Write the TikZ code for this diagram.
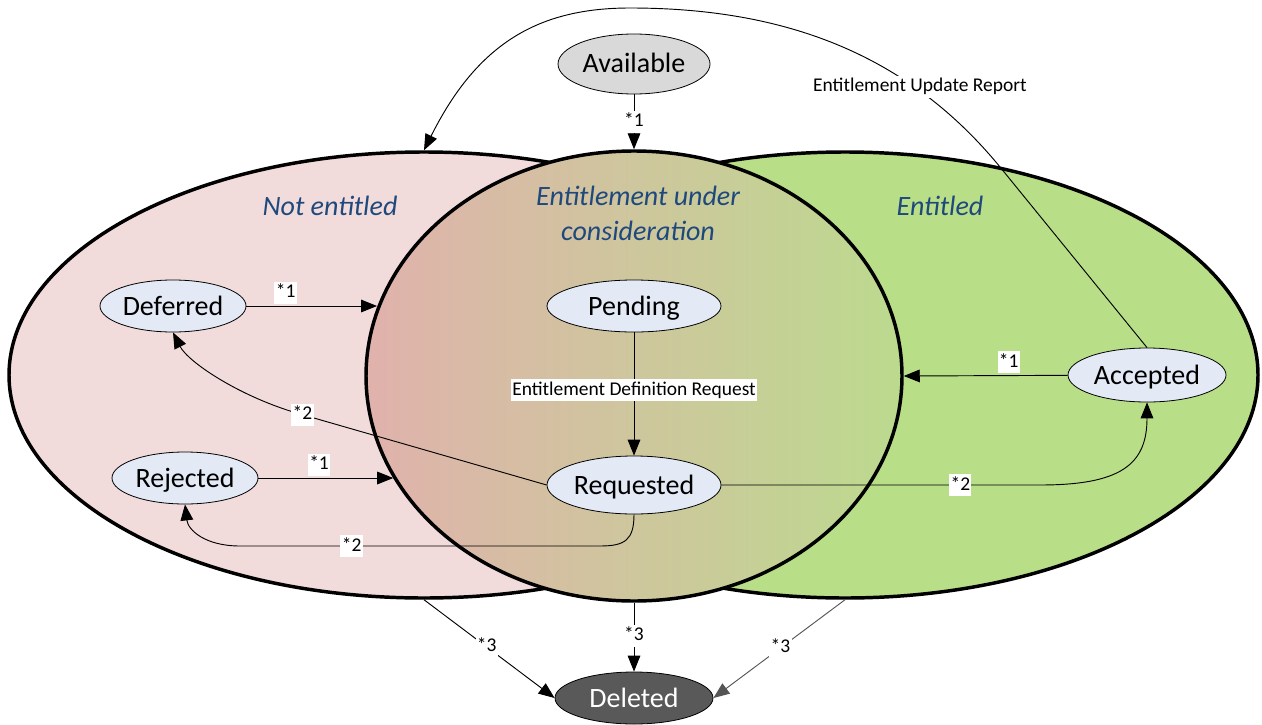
\documentclass[tikz,border=0pt]{standalone}
\usepackage{fontspec}
\setmainfont{Carlito}
\usetikzlibrary{shapes.geometric,arrows.meta}
\definecolor{notentfill}{HTML}{F2DCDB}
\definecolor{entfill}{HTML}{B8DE88}
\definecolor{midleft}{HTML}{E0B2AC}
\definecolor{midright}{HTML}{BCDA8E}
\definecolor{statefill}{HTML}{E3EAF6}
\definecolor{availfill}{HTML}{D9D9D9}
\definecolor{delfill}{HTML}{595959}
\definecolor{zonetext}{HTML}{1F497D}
\definecolor{softline}{HTML}{555555}
\begin{document}
\begin{tikzpicture}[x=0.75pt,y=-0.75pt,
  region/.style={ellipse, draw=black, line width=2.6pt, inner sep=0pt},
  state/.style={ellipse, draw=black, line width=0.6pt, fill=statefill, inner sep=0pt,
    text height=13.5pt, text depth=0pt, font=\fontsize{21}{25}\selectfont},
  flow/.style={draw=black, line width=0.7pt, -{Triangle[length=12pt,width=9.5pt]}},
  lbl/.style={fill=white, inner xsep=1pt, inner ysep=0.5pt, text height=11.5pt, text depth=4pt,
    font=\fontsize{14.6}{17}\selectfont},
  zone/.style={text=zonetext, align=center, font=\fontsize{21}{26.25}\itshape\selectfont}
]
\useasboundingbox (0,0) rectangle (1262,724);

% the three status regions
\node[region, fill=notentfill, minimum width=622.5pt, minimum height=334.5pt] (ne) at (424,375) {};
\node[region, fill=entfill, minimum width=619.5pt, minimum height=334.5pt] (ent) at (845,375) {};
\node[region, left color=midleft, right color=midright, minimum width=402pt, minimum height=337.5pt] (mid) at (634,376) {};

\node[zone] (zne) at (330,206) {Not entitled};
\node[zone] (zmid) at (638,213) {Entitlement under\\consideration};
\node[zone] (zent) at (940,206) {Entitled};

% states
\node[state, fill=availfill, minimum width=114pt, minimum height=45pt] (avail) at (634,64) {Available};
\node[state, minimum width=109.5pt, minimum height=39pt] (def) at (173,306) {Deferred};
\node[state, minimum width=109.5pt, minimum height=39pt] (rej) at (185,478) {Rejected};
\node[state, minimum width=130.5pt, minimum height=39pt] (pen) at (634,306) {Pending};
\node[state, minimum width=130.5pt, minimum height=43.5pt] (req) at (634,485) {Requested};
\node[state, minimum width=118.5pt, minimum height=40.5pt] (acc) at (1147,375) {Accepted};
\node[state, fill=delfill, text=white, minimum width=118.5pt, minimum height=39pt] (del) at (634,698) {Deleted};

% transitions
\draw[flow] (avail) -- node[lbl]{*1} (mid.north);
\draw[flow] (pen) -- node[lbl, pos=0.47]{Entitlement Definition Request} (req);
\draw[flow] (def.east) -- node[lbl, above=1.5pt, pos=0.3]{*1} (def.east -| mid.165);
\draw[flow] (rej.east) -- node[lbl, above=1.5pt, pos=0.45]{*1} (rej.east -| mid.203);
\draw[flow] (acc) -- node[lbl, above=1.5pt, pos=0.36]{*1} (mid.east);

\draw[flow] (req.west) -- node[lbl, pos=0.99]{*2} (300,414)
  .. controls (240,397) and (188,362) .. (def.south);
\draw[flow] (req.south) .. controls (634,540) and (625,546) .. (600,546)
  -- node[lbl, pos=0.69]{*2} (240,546)
  .. controls (205,546) and (188,530) .. (rej.south);
\draw[flow] (req.east) -- node[lbl, pos=0.75]{*2} (1040,485)
  .. controls (1120,485) and (1147,465) .. (acc.south);

\draw[flow] (acc.north) -- (1000,167)
  .. controls (905,51) and (780,8) .. node[lbl, pos=0.26, yshift=3pt]{Entitlement Update Report} (630,8)
  .. controls (540,8) and (478,42) .. (ne.north);

\draw[flow] (ne.south) -- node[lbl, pos=0.48]{*3} (del.west);
\draw[flow] (mid.south) -- node[lbl, pos=0.48]{*3} (del.north);
\draw[flow, draw=softline] (ent.south) -- node[lbl, pos=0.49]{*3} (del.east);
\end{tikzpicture}
\end{document}
